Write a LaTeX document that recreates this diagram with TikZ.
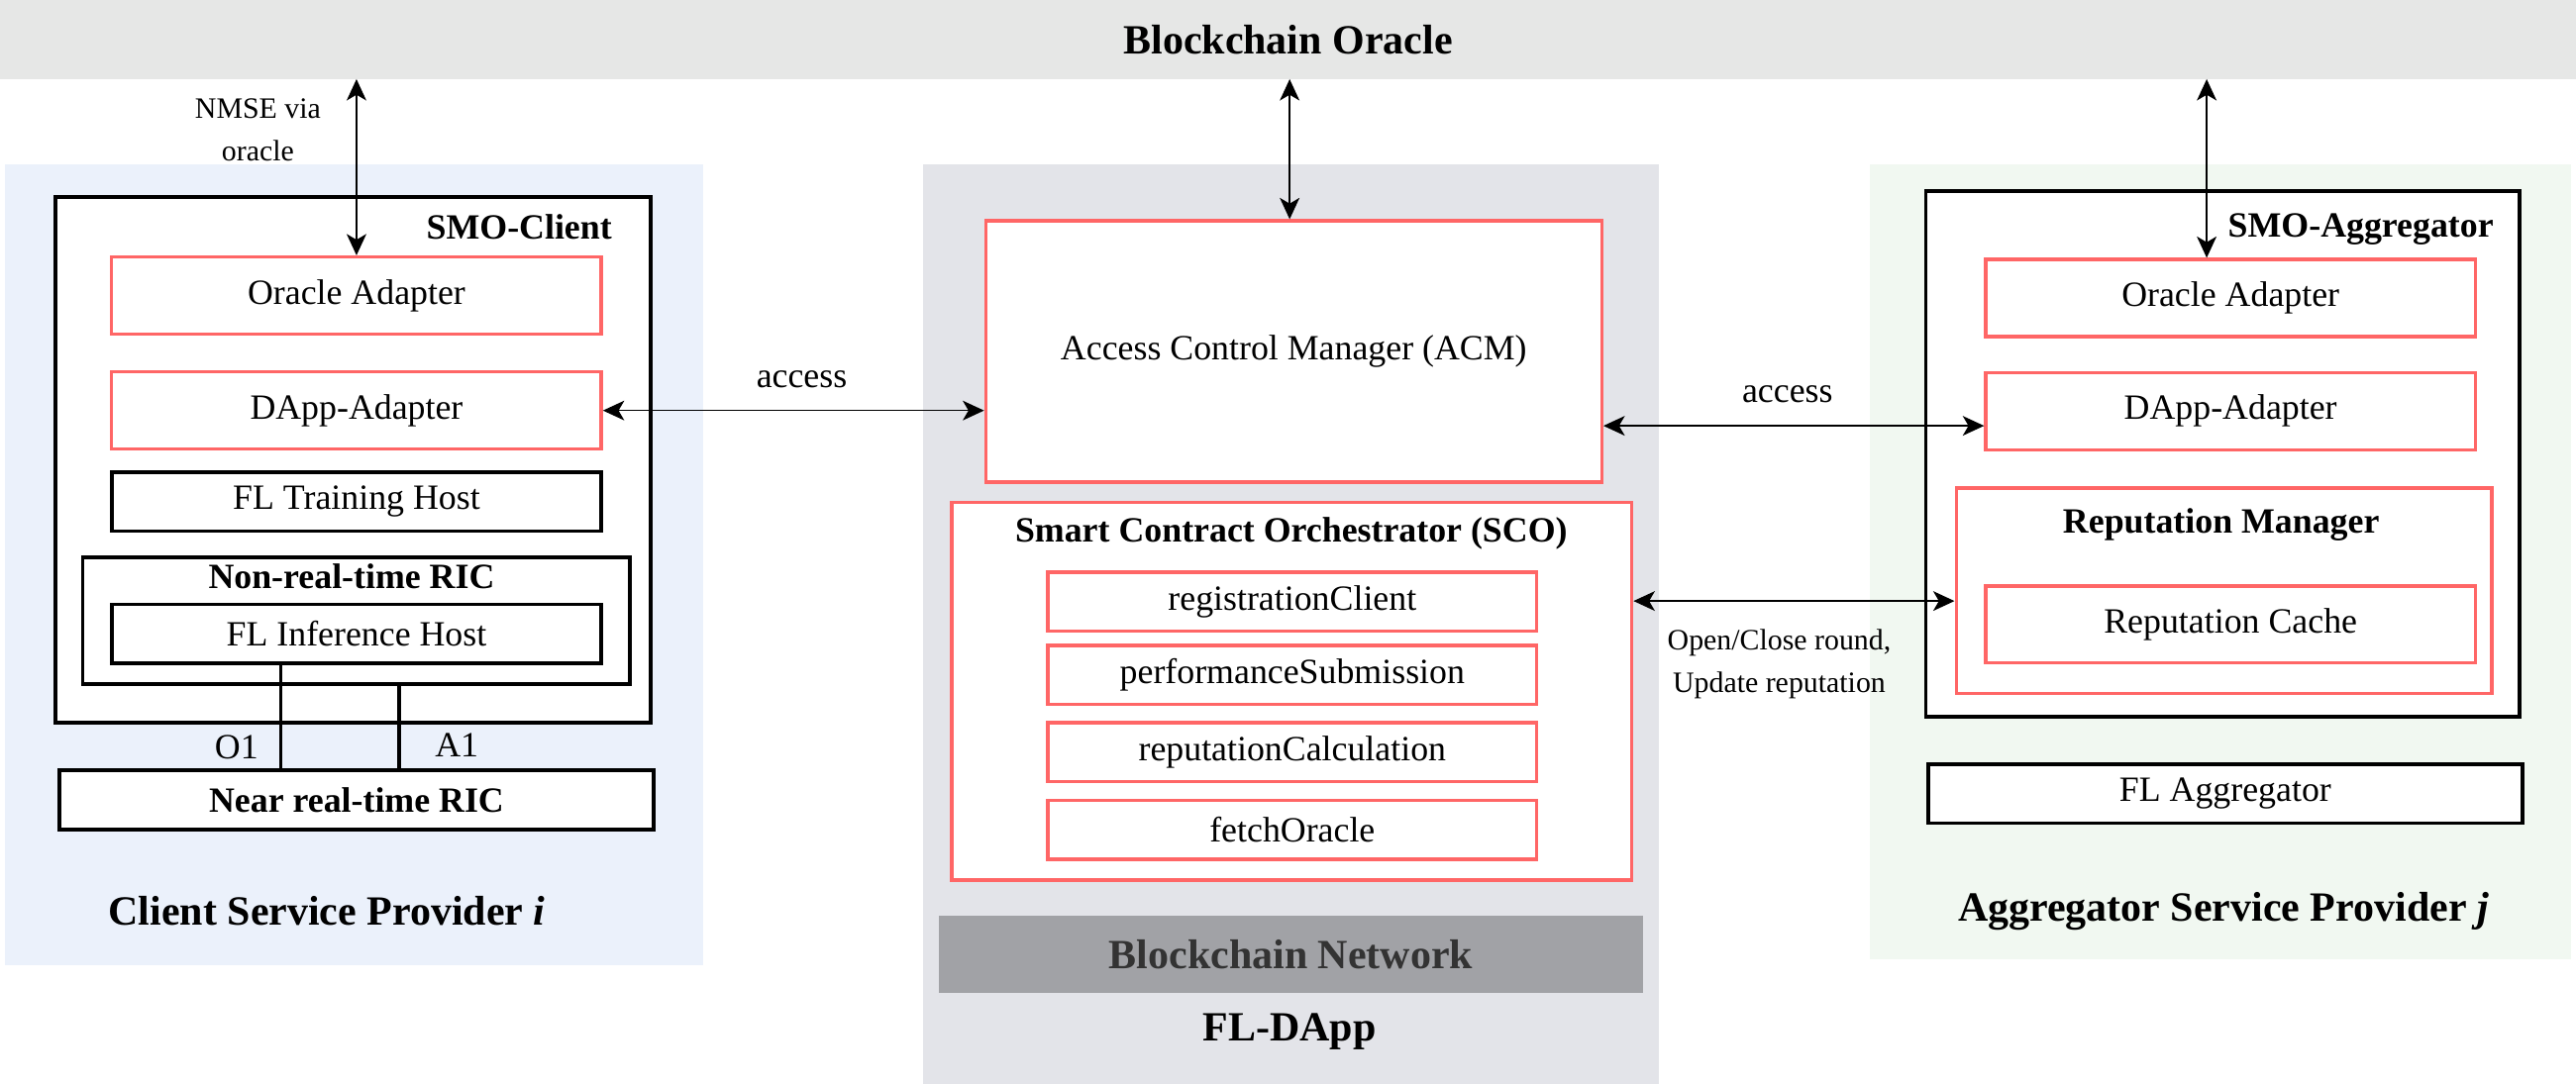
\documentclass[tikz,border=0pt]{standalone}
\usepackage{fontspec}
\setmainfont{Liberation Serif}
\usetikzlibrary{arrows.meta}

\definecolor{oraclegray}{HTML}{E6E7E6}
\definecolor{clientblue}{HTML}{EBF1FB}
\definecolor{dappgray}{HTML}{E3E4E9}
\definecolor{aggrgreen}{HTML}{F1F8F1}
\definecolor{netgray}{HTML}{A1A2A6}
\definecolor{boxred}{HTML}{FF6666}

\begin{document}
\begin{tikzpicture}[x=1pt, y=-1pt,
    redbox/.style={draw=boxred, line width=2pt, fill=white, inner sep=0pt, font=\txt},
    blackbox/.style={draw=black, line width=2.3pt, fill=white, inner sep=0pt, font=\txt},
    wire/.style={line width=2.2pt},
    arr/.style={<->, line width=0.9pt},
    >={Stealth[length=13pt, width=12pt, inset=3.5pt]}
]
    \def\txt{\fontsize{21.6}{26}\selectfont}
    \def\bigtxt{\fontsize{25.3}{30}\selectfont\bfseries}
    \def\smalltxt{\fontsize{18}{26}\selectfont}

    \useasboundingbox (0, 0) rectangle (1568, 660);

    % provider backgrounds
    \fill[clientblue] (3, 100) rectangle (428, 588);
    \fill[dappgray] (562, 100) rectangle (1010, 660);
    \fill[aggrgreen] (1138, 100) rectangle (1565, 584);

    \node[fill=oraclegray, minimum width=1568pt, minimum height=48pt, inner sep=0pt, font=\bigtxt] (oracle) at (784, 24) {Blockchain Oracle};

    % client side
    \node[blackbox, minimum width=362pt, minimum height=320pt] (smoC) at (215, 280) {};
    \node[font=\txt\bfseries] (smoClbl) at (316, 138) {SMO-Client};
    \node[redbox, minimum width=298pt, minimum height=47pt] (oracleL) at (217, 180) {Oracle Adapter};
    \node[redbox, minimum width=298pt, minimum height=47pt] (dappL) at (217, 250) {DApp-Adapter};
    \node[blackbox, minimum width=298pt, minimum height=36pt] (train) at (217, 305.4) {FL Training Host};
    \node[blackbox, minimum width=333pt, minimum height=77.5pt] (nonrt) at (216.8, 378) {};
    \node[font=\txt\bfseries] (nonrtlbl) at (214, 351) {Non-real-time RIC};
    \node[blackbox, minimum width=298pt, minimum height=36pt] (infer) at (217, 386) {FL Inference Host};
    \node[blackbox, minimum width=362pt, minimum height=36pt, font=\txt\bfseries] (nearrt) at (217, 487) {Near real-time RIC};
    \node[font=\bigtxt] (clientlbl) at (199, 555) {Client Service Provider \textit{i}};

    \coordinate (o1) at (171, 0);
    \coordinate (a1) at (243, 0);
    \draw[wire] (o1 |- infer.south) -- (o1 |- nearrt.north);
    \draw[wire] (a1 |- nonrt.south) -- (a1 |- nearrt.north);
    \node[font=\txt] (o1lbl) at (144, 455) {O1};
    \node[font=\txt] (a1lbl) at (278, 454) {A1};

    % FL-DApp
    \node[redbox, minimum width=375pt, minimum height=159pt] (acm) at (787.5, 214) {Access Control Manager (ACM)};
    \node[redbox, minimum width=414pt, minimum height=230pt] (sco) at (786.3, 421) {};
    \node[font=\txt\bfseries] (scolbl) at (786, 325) {Smart Contract Orchestrator (SCO)};
    \foreach \nm/\lbl/\y in {reg/registrationClient/366.4, perf/performanceSubmission/411.1,
                            repcalc/reputationCalculation/458, fetch/fetchOracle/505.3}
        \node[redbox, minimum width=297.6pt, minimum height=36pt] (\nm) at (786.6, \y) {\lbl};
    \node[fill=netgray, minimum width=429pt, minimum height=47pt, inner sep=0pt, font=\bigtxt, text=black!80] (net) at (785.8, 581) {Blockchain Network};
    \node[font=\bigtxt] (dapplbl) at (785, 628) {FL-DApp};

    % aggregator side
    \node[blackbox, minimum width=361.5pt, minimum height=320pt] (smoA) at (1353, 276.3) {};
    \node[font=\txt\bfseries] (smoAlbl) at (1437, 139.5) {SMO-Aggregator};
    \node[redbox, minimum width=298pt, minimum height=47pt] (oracleR) at (1357.7, 181.5) {Oracle Adapter};
    \node[redbox, minimum width=298pt, minimum height=47pt] (dappR) at (1357.7, 250.3) {DApp-Adapter};
    \node[redbox, minimum width=326pt, minimum height=125pt] (repmgr) at (1353.7, 359.7) {};
    \node[font=\txt\bfseries] (repmgrlbl) at (1352, 319.5) {Reputation Manager};
    \node[redbox, minimum width=298pt, minimum height=47pt] (cache) at (1357.7, 380.3) {Reputation Cache};
    \node[blackbox, minimum width=362pt, minimum height=36pt] (aggr) at (1354.5, 483.3) {FL Aggregator};
    \node[font=\bigtxt] (aggrlbl) at (1353.4, 555) {Aggregator Service Provider \textit{j}};

    % oracle links
    \draw[arr] (oracleL.north) -- (oracleL.north |- oracle.south);
    \node[font=\smalltxt, align=center] (nmse) at (157, 79) {NMSE via\\oracle};
    \draw[arr] ([xshift=-2.5pt]acm.north) -- ([xshift=-2.5pt]acm.north |- oracle.south);
    \draw[arr] ([xshift=-14.5pt]oracleR.north) -- ([xshift=-14.5pt]oracleR.north |- oracle.south);

    % access and reputation links
    \draw[arr] (dappL.east) -- (dappL.east -| acm.west);
    \node[font=\txt] (accLlbl) at (488, 231) {access};
    \coordinate (accR) at ([yshift=-9pt]dappR.west);
    \draw[arr] (accR -| acm.east) -- (accR);
    \node[font=\txt] (accRlbl) at (1088, 240) {access};
    \coordinate (updR) at ([yshift=-6.3pt]repmgr.west);
    \draw[arr] (updR -| sco.east) -- (updR);
    \node[font=\smalltxt, align=center] (updlbl) at (1083, 404.5) {Open/Close round,\\Update reputation};
\end{tikzpicture}
\end{document}
